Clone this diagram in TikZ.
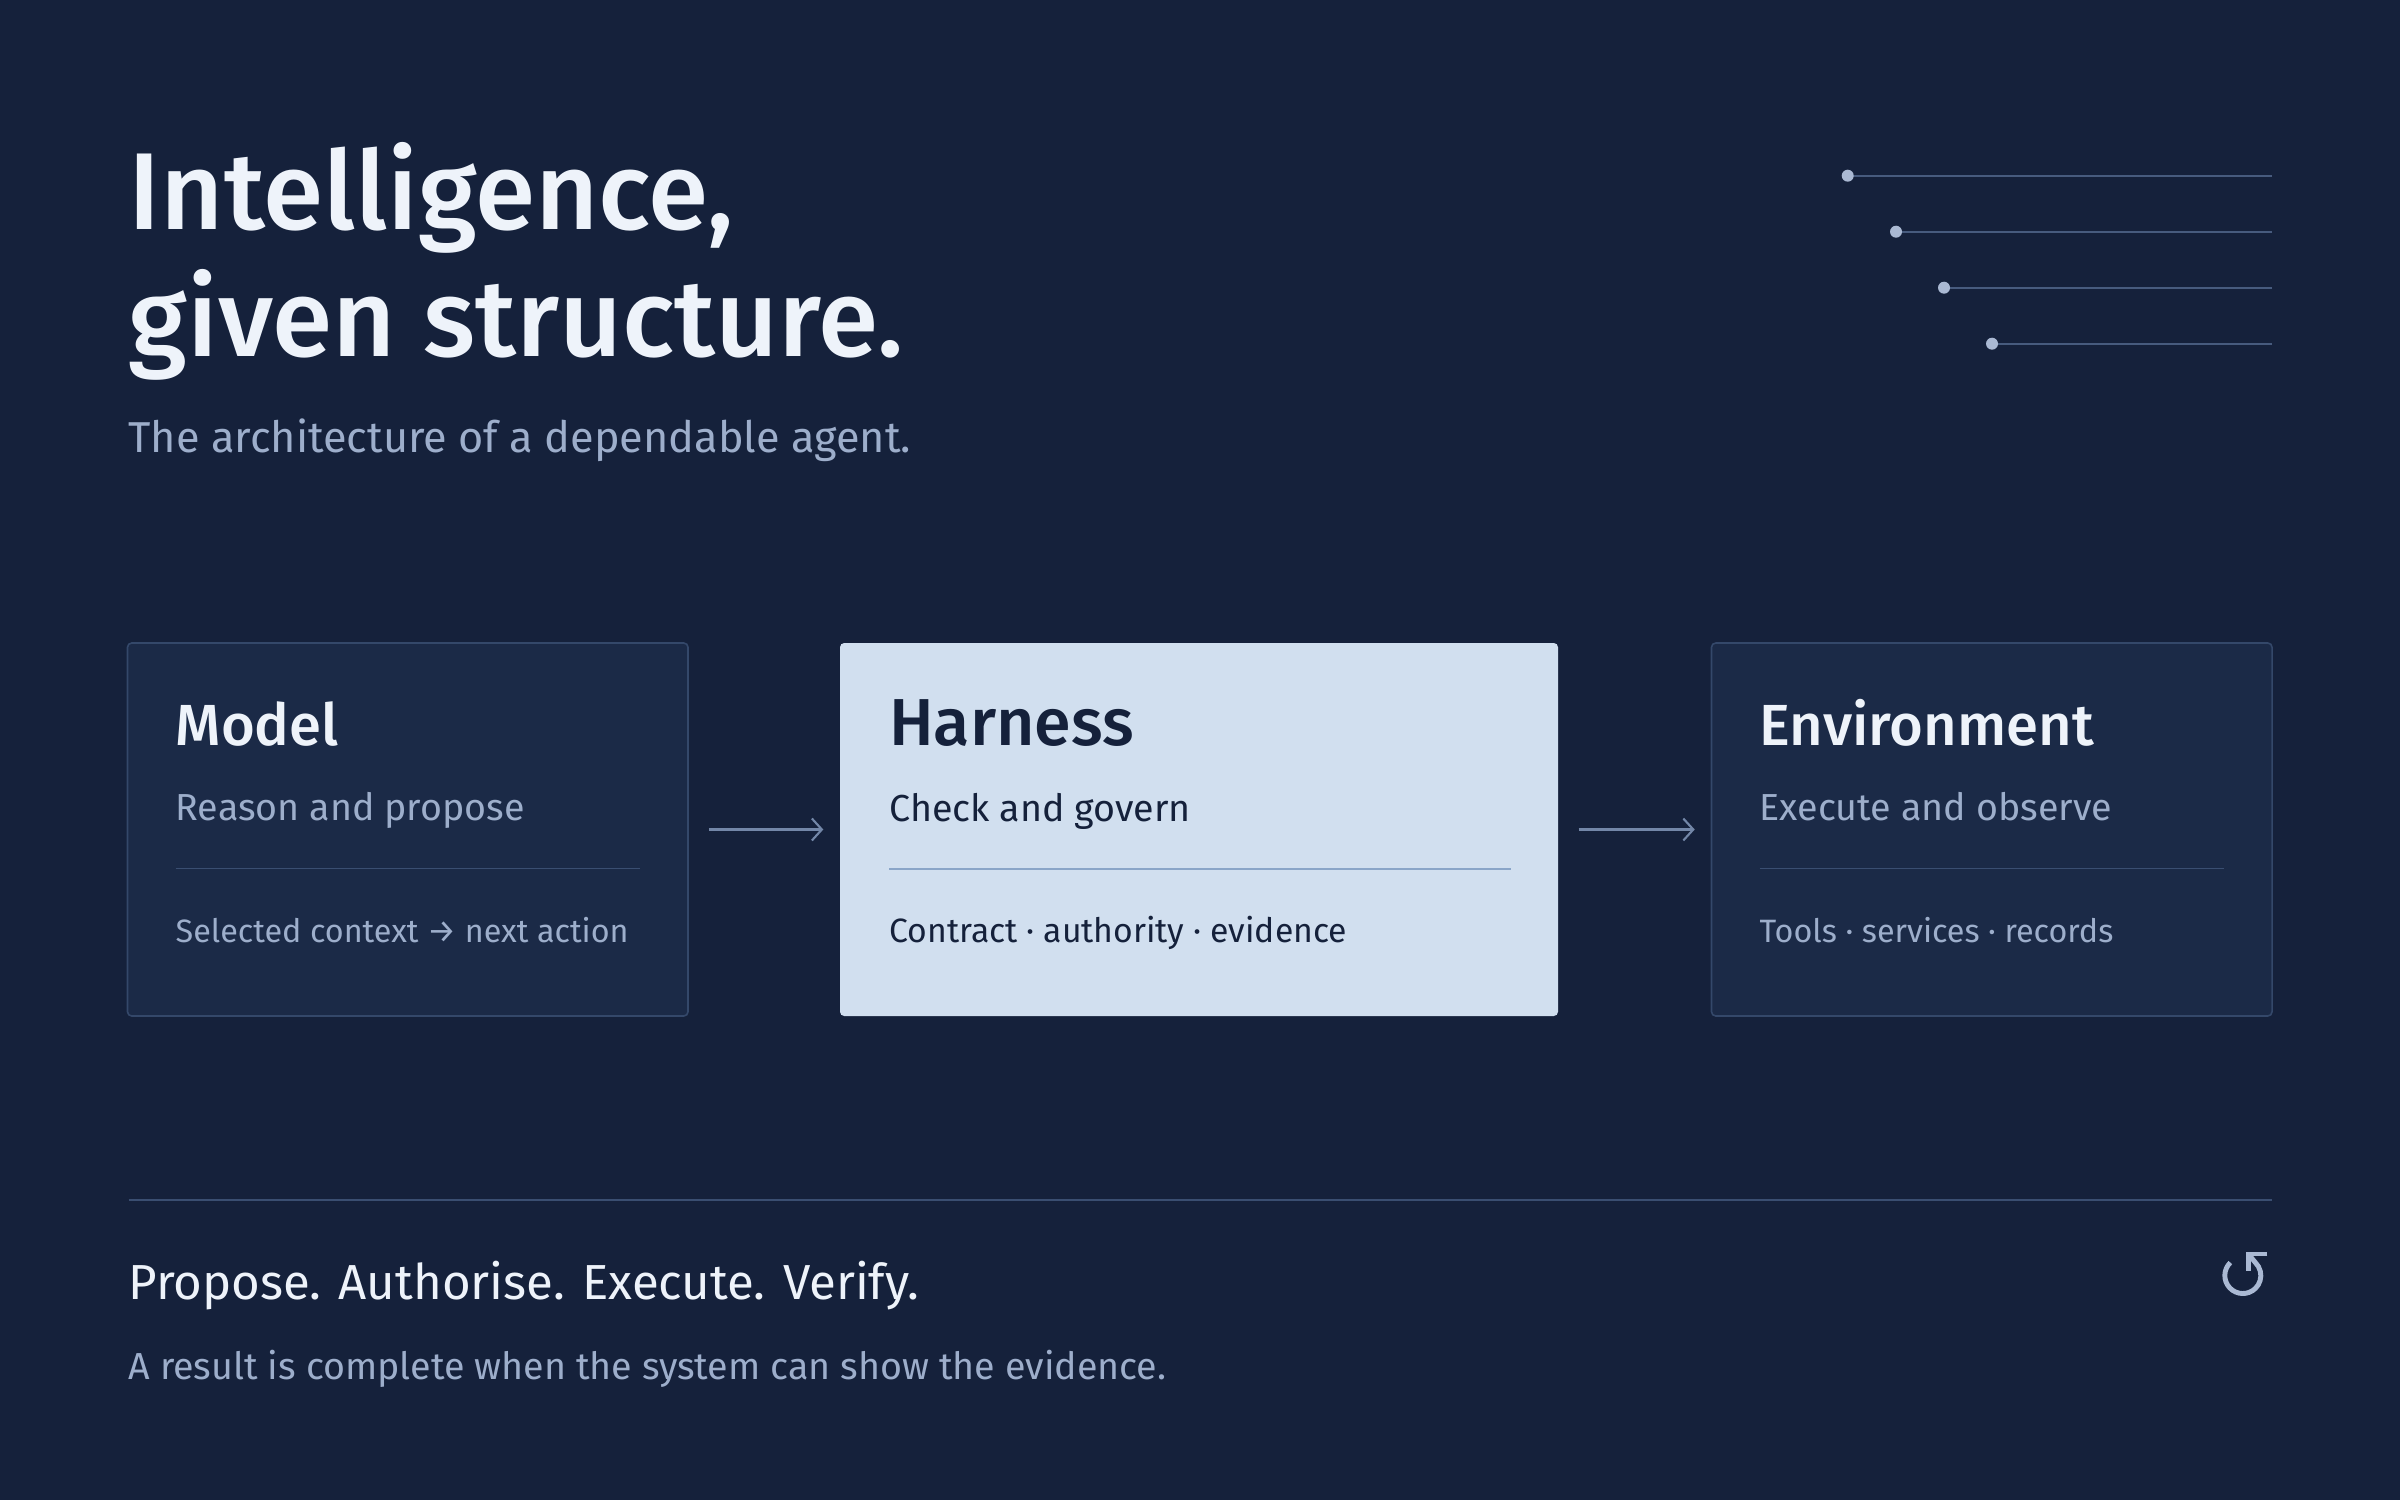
\documentclass[tikz,border=0pt]{standalone}
\usepackage{fontspec}
\setmainfont{Fira Sans}
\newfontfamily\medfont{Fira Sans Medium}
\usetikzlibrary{positioning, calc, arrows.meta}

\definecolor{navy}{HTML}{15213B}
\definecolor{cardfill}{HTML}{1B2A47}
\definecolor{cardline}{HTML}{34486A}
\definecolor{paleblue}{HTML}{D1DFEF}
\definecolor{inkwhite}{HTML}{EEF3FA}
\definecolor{muted}{HTML}{9DAECB}
\definecolor{softrule}{HTML}{3A4E71}
\definecolor{harnessrule}{HTML}{8AA5C8}
\definecolor{arrowgrey}{HTML}{7387A8}
\definecolor{decoline}{HTML}{475B7E}
\definecolor{decodot}{HTML}{AAB9D3}

\newcommand\headsize{\medfont\fontsize{31.1}{36}\selectfont}
\newcommand\leadsize{\fontsize{12.3}{15}\selectfont}
\newcommand\cardhead{\medfont\fontsize{16.5}{20}\selectfont}
\newcommand\keyhead{\medfont\fontsize{18.9}{23}\selectfont}
\newcommand\cardsub{\fontsize{10.7}{13}\selectfont}
\newcommand\carddetail{\fontsize{9.2}{11}\selectfont}

\tikzset{
  card/.style={draw=cardline, fill=cardfill, line width=0.45pt, rounded corners=1.2pt,
    minimum width=5.605cm, minimum height=3.73cm, inner sep=0pt},
  keycard/.style={fill=paleblue, rounded corners=1.2pt,
    minimum width=7.18cm, minimum height=3.73cm, inner sep=0pt},
  txt/.style={anchor=base west, inner sep=0pt, outer sep=0pt},
  flow/.style={draw=arrowgrey, line width=0.6pt, -{Straight Barb[length=0.1cm, width=0.22cm]},
    shorten <=0.2cm, shorten >=0.16cm},
}

\begin{document}
\begin{tikzpicture}

  % canvas
  \fill[navy] (0,0) rectangle (24,15);
  \useasboundingbox (0,0) rectangle (24,15);

  % card variables
  \def\pad{0.49}
  \def\hb{1.03}
  \def\sb{1.787}
  \def\rb{2.263}
  \def\db{3.003}

  % heading
  \node[txt, text=inkwhite, font=\headsize] (title1) at (1.285,12.70) {Intelligence,};
  \node[txt, text=inkwhite, font=\headsize] (title2) at (1.285,11.43) {given structure.};
  \node[txt, text=muted, font=\leadsize] (lead) at (1.285,10.48) {The architecture of a dependable agent.};

  % deco lines
  \draw[decoline, line width=0.5pt] (18.477,13.243) -- (22.717,13.243);
  \draw[decoline, line width=0.5pt] (18.960,12.683) -- (22.717,12.683);
  \draw[decoline, line width=0.5pt] (19.440,12.123) -- (22.717,12.123);
  \draw[decoline, line width=0.5pt] (19.920,11.563) -- (22.717,11.563);
  \fill[decodot] (18.477,13.243) circle (0.06);
  \fill[decodot] (18.960,12.683) circle (0.06);
  \fill[decodot] (19.440,12.123) circle (0.06);
  \fill[decodot] (19.920,11.563) circle (0.06);

  % Model card
  \node[card] (model) at (4.0775,6.705) {};
  \node[txt, text=inkwhite, font=\cardhead] (modelhead) at ($(model.north west)+(\pad,-\hb)$) {Model};
  \node[txt, text=muted, font=\cardsub] (modelsub) at ($(model.north west)+(\pad,-\sb)$) {Reason and propose};
  \draw[softrule, line width=0.5pt] ($(model.north west)+(\pad,-\rb)$) -- ($(model.north east)+(-\pad,-\rb)$);
  \node[txt, text=muted, font=\carddetail] (modeldetail) at ($(model.north west)+(\pad,-\db)$) {Selected context → next action};

  % Harness card
  \node[keycard] (harness) at (11.99,6.705) {};
  \node[txt, text=navy, font=\keyhead] (harnesshead) at ($(harness.north west)+(0.5,-\hb)$) {Harness};
  \node[txt, text=navy, font=\cardsub] (harnesssub) at ($(harness.north west)+(0.5,-\sb)$) {Check and govern};
  \draw[harnessrule, line width=0.6pt] ($(harness.north west)+(0.5,-\rb)$) -- ($(harness.north east)+(-0.48,-\rb)$);
  \node[txt, text=navy, font=\fontsize{9.6}{12}\selectfont] (harnessdetail) at ($(harness.north west)+(0.5,-\db)$) {Contract · authority · evidence};

  % Environment card
  \node[card] (environment) at (19.9175,6.705) {};
  \node[txt, text=inkwhite, font=\cardhead] (envhead) at ($(environment.north west)+(\pad,-\hb)$) {Environment};
  \node[txt, text=muted, font=\cardsub] (envsub) at ($(environment.north west)+(\pad,-\sb)$) {Execute and observe};
  \draw[softrule, line width=0.5pt] ($(environment.north west)+(\pad,-\rb)$) -- ($(environment.north east)+(-\pad,-\rb)$);
  \node[txt, text=muted, font=\carddetail] (envdetail) at ($(environment.north west)+(\pad,-\db)$) {Tools · services · records};

  % flow arrows
  \draw[flow] (model) -- (harness);
  \draw[flow] (harness) -- (environment);

  % footer
  \draw[softrule, line width=0.5pt] (1.285,3.00) -- (22.717,3.00);
  \node[txt, text=inkwhite, font=\fontsize{14}{17}\selectfont] (motto) at (1.285,2.007) {Propose. Authorise. Execute. Verify.};
  \node[txt, text=muted, font=\fontsize{10.7}{13}\selectfont] (note) at (1.285,1.207) {A result is complete when the system can show the evidence.};

  % loop icon
  \coordinate (loopc) at (22.428,2.245);
  \coordinate (looptip) at (22.483,2.46);
  \draw[decodot, line width=1.4pt, line join=miter]
    (loopc) ++(134:0.18) arc (134:405:0.18) -- (looptip);
  \draw[decodot, line width=1.4pt, line join=miter]
    ($(looptip)+(0.19,0)$) -- (looptip) -- ($(looptip)+(0,-0.17)$);

\end{tikzpicture}
\end{document}
